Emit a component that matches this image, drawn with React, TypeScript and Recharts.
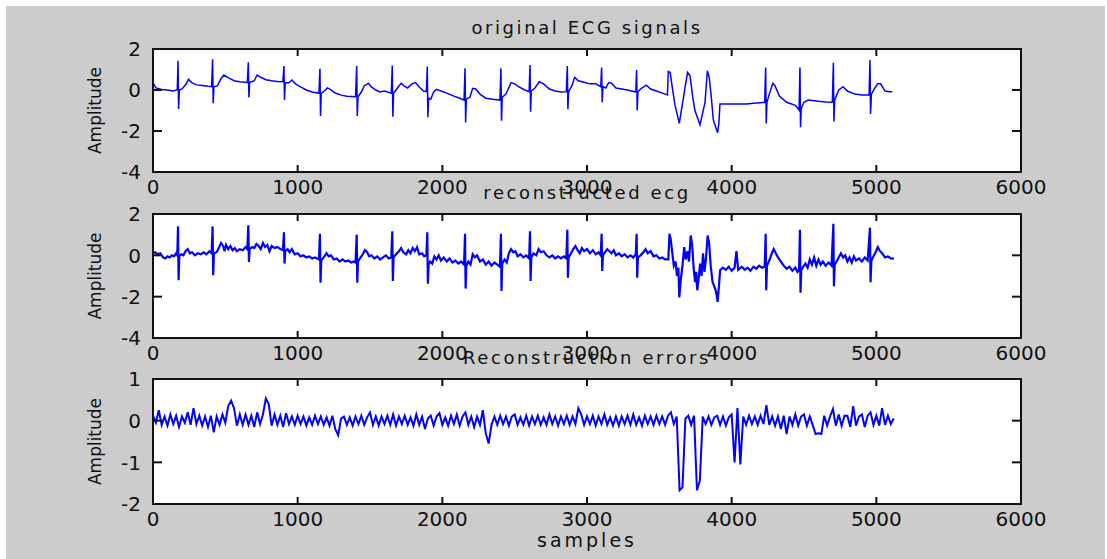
import { Line, LineChart, XAxis, YAxis } from 'recharts';

// tick values shared by all three panels
const X_TICKS = [0, 1000, 2000, 3000, 4000, 5000, 6000];
const ECG_TICKS = [-4, -2, 0, 2];
const ERR_TICKS = [-2, -1, 0, 1];

const TITLES = ['original ECG signals', 'reconstructed ecg', 'Reconstruction errors'];
const Y_LABEL = 'Amplitude';
const X_LABEL = 'samples';

// [sample, amplitude]
const ORIGINAL_ECG: [number, number][] = [
    [0, 0.36], [20, 0.1], [60, 0.02], [100, 0.0], [140, -0.05], [165, 0.0], [168, 0.05],
    [173, 1.43], [177, -0.93], [182, 0.0], [200, 0.05], [230, 0.3], [245, 0.52], [270, 0.35], [300, 0.25], [340, 0.22], [380, 0.18], [405, 0.16],
    [412, 1.5], [416, -0.65], [421, 0.16], [445, 0.2], [470, 0.55], [490, 0.73], [520, 0.6], [560, 0.45], [600, 0.4], [640, 0.38], [652, 0.36],
    [659, 1.35], [663, -0.36], [668, 0.36], [700, 0.45], [720, 0.73], [745, 0.62], [780, 0.5], [820, 0.45], [860, 0.42], [898, 0.4],
    [905, 1.17], [909, -0.49], [914, 0.35], [940, 0.35], [960, 0.49], [985, 0.3], [1020, 0.15], [1060, 0.0], [1100, -0.1], [1147, -0.16],
    [1154, 1.04], [1158, -1.27], [1163, -0.16], [1185, -0.05], [1205, 0.1], [1225, 0.03], [1260, -0.15], [1300, -0.25], [1340, -0.3], [1400, -0.33],
    [1408, 1.17], [1412, -1.27], [1417, -0.33], [1440, -0.1], [1460, 0.2], [1489, 0.33], [1510, 0.15], [1540, 0.0], [1570, -0.1], [1600, -0.05], [1647, -0.16],
    [1654, 1.19], [1658, -1.3], [1663, -0.16], [1690, 0.1], [1715, 0.33], [1735, 0.2], [1760, 0.1], [1790, 0.3], [1815, 0.36], [1840, 0.15], [1870, -0.05], [1890, -0.08],
    [1896, 1.14], [1900, -1.33], [1905, -0.4], [1920, -0.45], [1940, -0.1], [1960, 0.03], [1990, -0.05], [2030, -0.15], [2080, -0.3], [2120, -0.4], [2150, -0.49],
    [2157, 1.06], [2161, -1.59], [2166, -0.45], [2190, -0.35], [2210, 0.08], [2230, 0.05], [2260, -0.2], [2300, -0.4], [2350, -0.45], [2398, -0.49],
    [2405, 1.06], [2409, -1.5], [2414, -0.35], [2440, -0.2], [2475, 0.36], [2500, 0.3], [2530, 0.15], [2570, 0.0], [2600, -0.08],
    [2606, 1.22], [2610, -1.06], [2615, -0.05], [2640, 0.1], [2670, 0.4], [2700, 0.3], [2740, 0.05], [2780, -0.05], [2820, -0.1], [2857, -0.08],
    [2864, 1.17], [2868, -0.94], [2873, -0.08], [2895, 0.2], [2915, 0.62], [2940, 0.45], [2980, 0.38], [3020, 0.3], [3060, 0.3], [3095, 0.16],
    [3101, 1.1], [3105, -0.6], [3110, 0.16], [3130, 0.1], [3150, 0.36], [3170, 0.33], [3200, 0.1], [3240, 0.05], [3280, 0.0], [3337, -0.1],
    [3343, 0.98], [3347, -1.0], [3352, -0.1], [3370, 0.05], [3410, 0.24], [3440, 0.05], [3480, -0.05], [3540, -0.2], [3556, -0.24],
    [3562, 0.9], [3575, 0.85], [3590, 0.1], [3608, -0.73], [3638, -1.63], [3666, -0.4], [3695, 0.86], [3712, 0.7], [3730, -0.3], [3746, -1.0],
    [3781, -1.7], [3816, -0.6], [3832, 0.94], [3845, 0.6], [3860, -0.4], [3873, -1.46], [3903, -2.08], [3912, -1.6], [3919, -0.68],
    [4100, -0.68], [4150, -0.65], [4200, -0.62], [4228, -0.6],
    [4235, 1.1], [4239, -1.63], [4244, -0.6], [4260, -0.2], [4285, 0.33], [4300, 0.2], [4330, -0.3], [4380, -0.6], [4440, -0.75], [4466, -0.98],
    [4472, 1.1], [4476, -1.82], [4481, -0.9], [4500, -0.6], [4530, -0.49], [4600, -0.55], [4650, -0.58], [4696, -0.6],
    [4703, 1.33], [4707, -1.54], [4712, -0.5], [4740, 0.0], [4770, 0.16], [4800, -0.05], [4850, -0.2], [4900, -0.24], [4950, -0.24],
    [4956, 1.46], [4960, -1.17], [4966, -0.2], [4990, 0.1], [5010, 0.3], [5030, 0.3], [5060, -0.05], [5090, -0.08], [5110, -0.08],
];

// [sample, amplitude]
const RECON_ECG: [number, number][] = [
    [0, 0.1], [15, 0.15], [30, 0.05], [50, 0.1], [70, -0.1], [85, -0.15], [100, -0.05], [115, -0.1], [130, 0.0], [145, -0.05], [160, 0.1], [168, 0.0],
    [173, 1.4], [177, -1.2], [182, -0.05], [195, 0.05], [210, 0.0], [225, 0.2], [240, 0.3], [255, 0.1], [270, 0.15], [290, 0.0], [310, 0.1], [330, 0.05], [350, 0.15], [370, 0.05], [390, 0.2], [405, 0.1],
    [412, 1.4], [416, -0.96], [421, 0.1], [440, 0.15], [455, 0.35], [470, 0.6], [485, 0.45], [495, 0.2], [505, 0.5], [520, 0.3], [535, 0.45], [550, 0.25], [565, 0.35], [580, 0.2], [600, 0.3], [620, 0.25], [640, 0.4], [652, 0.3],
    [659, 1.45], [663, -0.32], [668, 0.3], [685, 0.4], [700, 0.35], [715, 0.55], [730, 0.45], [745, 0.3], [760, 0.6], [775, 0.4], [790, 0.5], [805, 0.2], [820, 0.45], [840, 0.35], [860, 0.4], [880, 0.3], [898, 0.25],
    [905, 1.12], [909, -0.4], [914, 0.2], [930, 0.3], [945, 0.15], [960, 0.3], [980, 0.05], [1000, 0.1], [1020, -0.05], [1040, 0.0], [1060, -0.1], [1080, -0.05], [1100, -0.15], [1120, -0.1], [1147, -0.2],
    [1154, 1.04], [1158, -1.33], [1163, -0.25], [1180, -0.1], [1200, 0.1], [1215, -0.05], [1230, 0.0], [1250, -0.2], [1270, -0.15], [1290, -0.3], [1310, -0.2], [1330, -0.3], [1350, -0.25], [1370, -0.35], [1390, -0.3], [1400, -0.35],
    [1408, 1.0], [1412, -1.33], [1417, -0.3], [1435, -0.1], [1450, 0.05], [1465, 0.25], [1480, 0.15], [1495, -0.05], [1510, 0.0], [1530, -0.15], [1550, -0.05], [1570, -0.2], [1590, -0.1], [1610, 0.0], [1630, -0.15], [1647, -0.1],
    [1654, 1.16], [1658, -1.24], [1663, -0.1], [1680, 0.05], [1700, 0.2], [1715, 0.35], [1730, 0.15], [1750, 0.05], [1765, 0.25], [1780, 0.1], [1795, 0.35], [1810, 0.2], [1825, 0.4], [1840, 0.05], [1860, 0.1], [1875, -0.05], [1890, 0.0],
    [1896, 1.12], [1900, -1.37], [1905, -0.45], [1915, -0.3], [1930, -0.4], [1945, -0.05], [1960, -0.2], [1975, 0.0], [1990, -0.25], [2010, -0.1], [2030, -0.3], [2050, -0.15], [2070, -0.35], [2090, -0.25], [2110, -0.4], [2130, -0.3], [2150, -0.45],
    [2157, 1.04], [2161, -1.61], [2166, -0.5], [2180, -0.3], [2195, -0.45], [2210, 0.05], [2225, -0.1], [2240, 0.0], [2260, -0.3], [2280, -0.2], [2300, -0.45], [2320, -0.3], [2340, -0.5], [2360, -0.35], [2380, -0.45], [2398, -0.55],
    [2405, 1.04], [2409, -1.72], [2414, -0.4], [2430, -0.2], [2445, -0.35], [2460, 0.1], [2475, 0.3], [2490, 0.15], [2505, 0.2], [2520, -0.05], [2540, 0.05], [2560, -0.1], [2580, 0.0], [2600, -0.15],
    [2606, 1.16], [2610, -1.24], [2615, -0.1], [2630, 0.1], [2650, 0.0], [2665, 0.3], [2680, 0.15], [2700, 0.2], [2720, 0.0], [2740, -0.1], [2760, 0.0], [2780, -0.15], [2800, -0.05], [2820, -0.15], [2840, -0.05], [2857, -0.15],
    [2864, 1.24], [2868, -1.08], [2873, -0.1], [2890, 0.1], [2905, 0.3], [2920, 0.45], [2935, 0.25], [2950, 0.1], [2965, 0.35], [2980, 0.2], [3000, 0.3], [3020, 0.1], [3040, 0.25], [3060, 0.05], [3080, 0.15], [3095, 0.0],
    [3101, 1.04], [3105, -0.76], [3110, 0.0], [3125, 0.15], [3140, 0.3], [3155, 0.2], [3170, 0.1], [3185, 0.25], [3200, 0.0], [3220, 0.1], [3240, -0.05], [3260, 0.05], [3280, -0.1], [3300, 0.0], [3320, -0.1], [3337, 0.05],
    [3343, 1.04], [3347, -1.08], [3352, -0.1], [3370, 0.0], [3390, 0.15], [3405, 0.3], [3420, 0.1], [3440, 0.2], [3460, -0.05], [3480, 0.0], [3500, -0.15], [3520, -0.1], [3540, -0.2], [3562, -0.2],
    [3570, 1.04], [3578, 0.8], [3590, 0.1], [3600, -0.5], [3612, -0.3], [3622, -1.0], [3632, -0.6], [3638, -2.04], [3648, -1.2], [3660, -0.5], [3672, 0.4], [3682, -0.2], [3695, 0.2], [3705, -0.3],
    [3717, 0.96], [3727, 0.5], [3737, -0.6], [3747, -1.3], [3755, -0.8], [3762, -1.69], [3772, -1.1], [3782, -0.4], [3792, -1.0], [3802, 0.1], [3812, -0.8], [3822, -0.2],
    [3834, 0.96], [3844, 0.6], [3855, -0.5], [3868, -1.3], [3880, -1.5], [3892, -1.75], [3903, -2.25], [3912, -1.5], [3920, -0.72],
    [3940, -0.6], [3960, -0.7], [3980, -0.55], [4000, -0.75], [4020, -0.6], [4033, 0.2], [4045, -0.7], [4070, -0.55], [4090, -0.7], [4110, -0.6], [4130, -0.75], [4150, -0.55], [4170, -0.65], [4190, -0.5], [4210, -0.6], [4228, -0.55],
    [4235, 1.04], [4239, -1.69], [4244, -0.5], [4260, -0.25], [4275, 0.05], [4290, 0.3], [4305, 0.1], [4320, -0.1], [4340, -0.3], [4360, -0.5], [4380, -0.65], [4400, -0.55], [4420, -0.75], [4440, -0.6], [4455, -0.8], [4466, -0.7],
    [4472, 1.24], [4476, -1.81], [4481, -0.7], [4495, -0.55], [4510, -0.4], [4525, -0.6], [4540, -0.2], [4555, -0.45], [4570, -0.1], [4585, -0.5], [4600, -0.2], [4615, -0.45], [4630, -0.3], [4650, -0.5], [4670, -0.35], [4690, -0.5],
    [4703, 1.53], [4707, -1.5], [4712, -0.45], [4725, -0.3], [4740, -0.1], [4755, 0.1], [4770, -0.1], [4785, 0.0], [4800, -0.3], [4815, -0.1], [4830, -0.35], [4845, -0.05], [4860, -0.25], [4880, -0.15], [4900, -0.3], [4920, -0.1], [4940, -0.25],
    [4956, 1.34], [4960, -1.3], [4966, -0.25], [4980, -0.05], [4995, 0.15], [5010, 0.4], [5025, 0.2], [5040, 0.1], [5060, -0.1], [5080, -0.05], [5100, -0.15], [5122, -0.16],
];

// error values, one every ERR_STEP samples from 0 to 5120
const ERR_STEP = 20;
const RECON_ERRORS = [
    0.12, -0.05, 0.25, -0.1, 0.1, -0.12, 0.15, -0.08, 0.12, -0.15, 0.1, -0.05, 0.2, -0.1, 0.3, -0.08,
    0.12, -0.12, 0.1, -0.15, 0.12, -0.28, 0.1, -0.1, 0.15, -0.05, 0.35, 0.48, 0.3, -0.12, 0.15, -0.1,
    0.15, -0.1, 0.12, -0.15, 0.2, -0.08, 0.15, 0.53, 0.4, -0.12, 0.15, -0.1, 0.12, -0.15, 0.18, -0.08,
    0.1, -0.1, 0.12, -0.08, 0.1, -0.12, 0.08, -0.1, 0.12, -0.08, 0.1, -0.1, 0.08, -0.12, 0.12, -0.2,
    -0.35, 0.05, 0.1, -0.1, 0.08, -0.12, 0.1, -0.08, 0.12, -0.1, 0.08, 0.2, -0.1, 0.1, -0.12, 0.1,
    -0.08, 0.12, -0.1, 0.15, -0.12, 0.1, -0.08, 0.12, -0.1, 0.08, -0.12, 0.15, -0.1, 0.1, -0.2, 0.05,
    0.12, -0.12, 0.1, 0.18, -0.1, 0.08, -0.12, 0.12, -0.08, 0.15, -0.12, 0.1, 0.2, -0.1, 0.1, -0.15,
    0.1, -0.1, 0.25, -0.3, -0.55, -0.1, 0.1, -0.1, 0.12, -0.08, 0.1, -0.12, 0.1, 0.15, -0.1, 0.08,
    -0.1, 0.12, -0.12, 0.1, -0.08, 0.12, -0.1, 0.08, -0.1, 0.15, -0.08, 0.1, -0.12, 0.1, -0.08, 0.12,
    -0.1, 0.1, -0.08, 0.3, 0.15, -0.1, 0.1, -0.08, 0.12, -0.12, 0.1, -0.08, 0.15, -0.1, 0.08, -0.12,
    0.1, -0.12, 0.1, -0.08, 0.12, -0.1, 0.15, -0.1, 0.08, -0.12, 0.12, -0.08, 0.1, -0.1, 0.12, -0.08,
    0.1, -0.1, 0.12, 0.2, -0.08, 0.1, -1.67, -1.6, 0.05, 0.12, -0.1, 0.12, -1.67, -1.44, 0.1, -0.08,
    0.1, -0.1, 0.08, 0.12, -0.1, 0.1, -0.12, 0.08, 0.15, -1.0, 0.3, -1.05, 0.1, -0.1, 0.12, -0.08,
    0.1, -0.1, 0.12, -0.08, 0.37, -0.1, 0.1, -0.12, 0.1, -0.2, 0.12, -0.32, 0.1, -0.1, 0.15, -0.12,
    0.1, 0.15, -0.12, 0.1, -0.1, -0.32, -0.3, -0.32, 0.12, -0.12, 0.1, 0.28, -0.12, 0.15, -0.12, 0.12,
    0.12, -0.15, 0.35, -0.12, 0.1, 0.15, -0.15, 0.12, 0.2, -0.1, 0.12, -0.12, 0.3, -0.1, 0.12, -0.08,
    0.05,
];

const FIG_BG = '#cccccc';
const INK = '#111111';
const LINE_BLUE = '#0000ff';
const FONT = 'DejaVu Sans';

const toRows = (pairs: [number, number][]) => pairs.map(([x, y]) => ({ x, y }));
const errRows = RECON_ERRORS.map((y, i) => ({ x: i * ERR_STEP, y }));

// every panel shares the same horizontal layout: plot area from x=153 to x=1021
const PLOT_LEFT = 153;
const PLOT_RIGHT = 1021;
const FIG_W = 1107;
const PANEL_H = 200;

interface PanelProps {
    top: number;
    plotTop: number;
    plotBottom: number;
    data: { x: number; y: number }[];
    yDomain: [number, number];
    yTicks: number[];
    strokeWidth: number;
}

function Panel({ top, plotTop, plotBottom, data, yDomain, yTicks, strokeWidth }: PanelProps) {
    // plot edges in this chart's own coordinates
    const pTop = plotTop - top;
    const pBottom = plotBottom - top;

    // matlab style: ticks point inward on all four sides of the box
    const renderXTick = (props: any) => {
        const { x, payload } = props;
        return (
            <g>
                <line x1={x} x2={x} y1={pBottom} y2={pBottom - 7} stroke={INK} strokeWidth={2} />
                <line x1={x} x2={x} y1={pTop} y2={pTop + 7} stroke={INK} strokeWidth={2} />
                <text x={x} y={pBottom + 22} textAnchor="middle" fontSize={20} fontFamily={FONT} fill={INK}>
                    {payload.value}
                </text>
            </g>
        );
    };
    const renderYTick = (props: any) => {
        const { y, payload } = props;
        return (
            <g>
                <line x1={PLOT_LEFT} x2={PLOT_LEFT + 9} y1={y} y2={y} stroke={INK} strokeWidth={2} />
                <line x1={PLOT_RIGHT - 9} x2={PLOT_RIGHT} y1={y} y2={y} stroke={INK} strokeWidth={2} />
                <text x={PLOT_LEFT - 12} y={y} dy="0.36em" textAnchor="end" fontSize={20} fontFamily={FONT} fill={INK}>
                    {payload.value}
                </text>
            </g>
        );
    };

    return (
        <div style={{ position: 'absolute', left: 0, top, width: FIG_W, height: PANEL_H }}>
            {/* white axes box behind the chart */}
            <div
                style={{
                    position: 'absolute',
                    boxSizing: 'border-box',
                    left: PLOT_LEFT - 1,
                    top: pTop - 1,
                    width: PLOT_RIGHT - PLOT_LEFT + 2,
                    height: pBottom - pTop + 2,
                    background: '#ffffff',
                    border: `2px solid ${INK}`,
                }}
            />
            <div style={{ position: 'absolute', left: 0, top: 0 }}>
                <LineChart
                    width={FIG_W}
                    height={PANEL_H}
                    data={data}
                    margin={{ top: pTop, right: FIG_W - PLOT_RIGHT, bottom: 0, left: 0 }}
                >
                    <XAxis
                        dataKey="x"
                        type="number"
                        domain={[0, 6000]}
                        ticks={X_TICKS}
                        height={PANEL_H - pBottom}
                        axisLine={false}
                        tickLine={false}
                        tick={renderXTick}
                        allowDataOverflow
                    />
                    <YAxis
                        type="number"
                        domain={yDomain}
                        ticks={yTicks}
                        width={PLOT_LEFT}
                        axisLine={false}
                        tickLine={false}
                        tick={renderYTick}
                        allowDataOverflow
                    />
                    <Line
                        type="linear"
                        dataKey="y"
                        stroke={LINE_BLUE}
                        strokeWidth={strokeWidth}
                        dot={false}
                        isAnimationActive={false}
                    />
                </LineChart>
            </div>
        </div>
    );
}

const textStyle = { fontFamily: FONT, fill: INK };

export default function App() {
    const centerX = (PLOT_LEFT + PLOT_RIGHT) / 2;
    return (
        <div style={{ position: 'fixed', left: 0, top: 0, width: FIG_W, height: 559, background: '#ffffff' }}>
            <div style={{ position: 'absolute', left: 6, top: 6, width: 1099, height: 553, background: FIG_BG }} />
            <Panel top={0} plotTop={49} plotBottom={172} data={toRows(ORIGINAL_ECG)} yDomain={[-4, 2]} yTicks={ECG_TICKS} strokeWidth={1.5} />
            <Panel top={165} plotTop={214} plotBottom={338} data={toRows(RECON_ECG)} yDomain={[-4, 2]} yTicks={ECG_TICKS} strokeWidth={2.2} />
            <Panel top={330} plotTop={379} plotBottom={504} data={errRows} yDomain={[-2, 1]} yTicks={ERR_TICKS} strokeWidth={2} />
            <svg width={FIG_W} height={559} style={{ position: 'absolute', left: 0, top: 0, pointerEvents: 'none' }}>
                <text x={centerX} y={34} textAnchor="middle" fontSize={18} letterSpacing={2.6} {...textStyle}>{TITLES[0]}</text>
                <text x={centerX} y={199} textAnchor="middle" fontSize={18} letterSpacing={2.6} {...textStyle}>{TITLES[1]}</text>
                <text x={centerX} y={364} textAnchor="middle" fontSize={18} letterSpacing={2.6} {...textStyle}>{TITLES[2]}</text>
                {[110.5, 276, 441.5].map((cy) => (
                    <text key={cy} x={101} y={cy} transform={`rotate(-90, 101, ${cy})`} textAnchor="middle" fontSize={17} {...textStyle}>
                        {Y_LABEL}
                    </text>
                ))}
                <text x={centerX} y={547} textAnchor="middle" fontSize={19} letterSpacing={3} {...textStyle}>{X_LABEL}</text>
            </svg>
        </div>
    );
}
